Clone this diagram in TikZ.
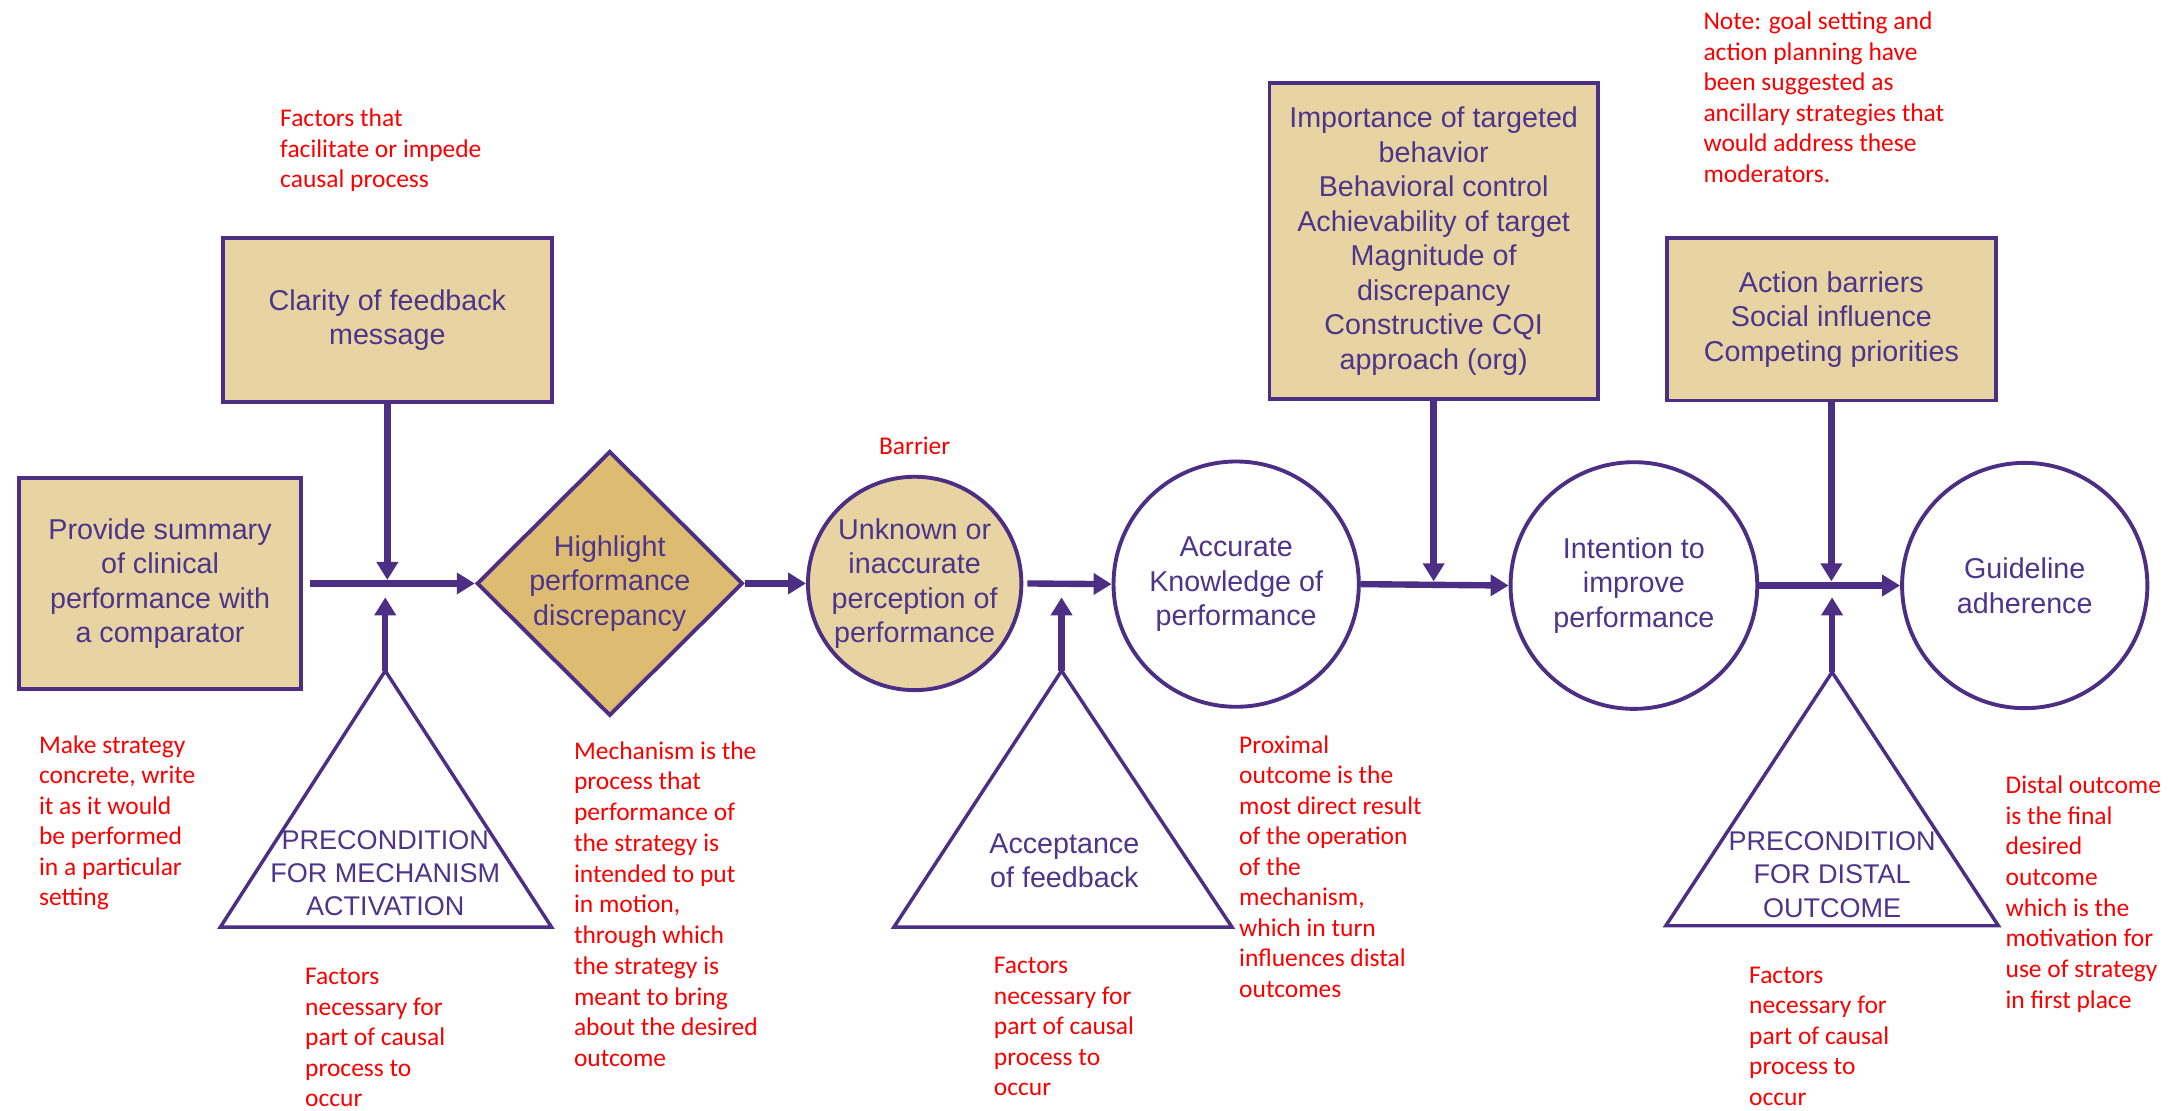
\documentclass[tikz,border=0pt]{standalone}
\usepackage{fontspec}
\setmainfont{Liberation Sans}
\newfontfamily\carl{Carlito}
\usetikzlibrary{arrows.meta,shapes.geometric}
\definecolor{purp}{RGB}{76,46,132}
\definecolor{ptext}{RGB}{78,52,138}
\definecolor{tanf}{RGB}{232,212,162}
\definecolor{dtan}{RGB}{221,188,114}
\definecolor{redc}{RGB}{250,0,0}
\begin{document}
\begin{tikzpicture}[x=1pt,y=-1pt,
 box/.style={draw=purp, line width=2.8pt, fill=tanf, rectangle, inner sep=0pt, align=center, text=ptext, font=\fontsize{20.7}{24.9}\selectfont},
 circ/.style={draw=purp, line width=2.8pt, circle, inner sep=0pt, align=center, text=ptext, font=\fontsize{20.7}{24.9}\selectfont},
 arr/.style={draw=purp, line width=4.6pt, -{Triangle[length=13pt,width=15pt]}},
 tri/.style={draw=purp, line width=2.5pt, fill=white},
 note/.style={text=redc, font=\carl\fontsize{18.4}{22}\selectfont, align=left, anchor=north west, inner sep=0pt},
 ttext/.style={text=ptext, align=center, inner sep=0pt, font=\fontsize{19.5}{24}\selectfont}]
\useasboundingbox (0,0) rectangle (1568,801);

% main chain
\node[box, minimum width=203pt, minimum height=152pt] (A) at (115.5,421) {Provide summary\\of clinical\\performance with\\a comparator};
\node[draw=purp, line width=2.8pt, fill=dtan, diamond, inner sep=0pt, minimum width=192pt, minimum height=191pt, align=center, text=ptext, font=\fontsize{20.7}{24.9}\selectfont] (M) at (440,421) {Highlight\\performance\\discrepancy};
\node[circ, fill=tanf, minimum size=154pt] (C) at (660,421) {Unknown or\\inaccurate\\perception of\\performance};
\node[circ, fill=white, minimum size=177pt] (D) at (892,421.5) {Accurate\\Knowledge of\\performance};
\node[circ, fill=white, minimum size=178pt] (F) at (1179,422.5) {Intention to\\improve\\performance};
\node[circ, fill=white, minimum size=177pt] (H) at (1461,422.5) {Guideline\\adherence};

% moderator boxes
\node[box, minimum width=237pt, minimum height=118pt] (B) at (279.5,231) {Clarity of feedback\\message};
\node[box, minimum width=237pt, minimum height=228pt] (E) at (1034.5,174) {Importance of targeted\\behavior\\Behavioral control\\Achievability of target\\Magnitude of\\discrepancy\\Constructive CQI\\approach (org)};
\node[box, minimum width=237pt, minimum height=117pt] (G) at (1321.5,230.5) {Action barriers\\Social influence\\Competing priorities};

% precondition triangles
\coordinate (T1a) at (278,484); \coordinate (T1l) at (159,669); \coordinate (T1r) at (398,669);
\coordinate (T2a) at (766,484); \coordinate (T2l) at (645,669); \coordinate (T2r) at (889,669);
\coordinate (T3a) at (1322,485); \coordinate (T3l) at (1202,668); \coordinate (T3r) at (1442,668);
\draw[tri] (T1a) -- (T1l) -- (T1r) -- cycle;
\draw[tri] (T2a) -- (T2l) -- (T2r) -- cycle;
\draw[tri] (T3a) -- (T3l) -- (T3r) -- cycle;
\node[ttext] (T1t) at (278,630) {PRECONDITION\\FOR MECHANISM\\ACTIVATION};
\node[ttext, font=\fontsize{20.7}{24.9}\selectfont] (T2t) at (768,621) {Acceptance\\of feedback};
\node[ttext] (T3t) at (1322,631) {PRECONDITION\\FOR DISTAL\\OUTCOME};

% junction coordinates
\coordinate (J1d) at (279.5,418.5); \coordinate (J1u) at (278,431);
\coordinate (J2u) at (766,431);
\coordinate (J3d) at (1034.5,419.5);
\coordinate (J4d) at (1321.5,419.5); \coordinate (J4u) at (1322,431);

% connectors
\draw[arr, shorten <=5pt] (A.east) -- (M.west);
\draw[arr] (M.east) -- (C.west);
\draw[arr, shorten <=3pt] (C.east) -- (D.west);
\draw[arr] (D.east) -- (F.west);
\draw[arr] (F.east) -- (H.west);
\draw[arr] (B.south) -- (J1d);
\draw[arr] (E.south) -- (J3d);
\draw[arr] (G.south) -- (J4d);
\draw[arr] (T1a) -- (J1u);
\draw[arr] (T2a) -- (J2u);
\draw[arr] (T3a) -- (J4u);

% red annotations
\node[note] (n1) at (202,76) {\strut Factors that\\facilitate or impede\\causal process};
\node[note] (n2) at (28,528) {\strut Make strategy\\concrete, write\\it as it would\\be performed\\in a particular\\setting};
\node[note] (n3) at (220,695) {\strut Factors\\necessary for\\part of causal\\process to\\occur};
\node[note, font=\carl\fontsize{18.4}{22.2}\selectfont] (n4) at (414,532) {\strut Mechanism is the\\process that\\performance of\\the strategy is\\intended to put\\in motion,\\through which\\the strategy is\\meant to bring\\about the desired\\outcome};
\node[text=redc, font=\carl\fontsize{18.4}{22}\selectfont, inner sep=0pt] (bar) at (660,322) {Barrier};
\node[note] (n5) at (717,687) {\strut Factors\\necessary for\\part of causal\\process to\\occur};
\node[note] (n6) at (894,528) {\strut Proximal\\outcome is the\\most direct result\\of the operation\\of the\\mechanism,\\which in turn\\influences distal\\outcomes};
\node[note] (n7) at (1229,6) {\strut Note: goal setting and\\action planning have\\been suggested as\\ancillary strategies that\\would address these\\moderators.};
\node[note] (n8) at (1262,694) {\strut Factors\\necessary for\\part of causal\\process to\\occur};
\node[note, font=\carl\fontsize{18.4}{22.1}\selectfont] (n9) at (1447,557) {\strut Distal outcome\\is the final\\desired\\outcome\\which is the\\motivation for\\use of strategy\\in first place};
\end{tikzpicture}
\end{document}
